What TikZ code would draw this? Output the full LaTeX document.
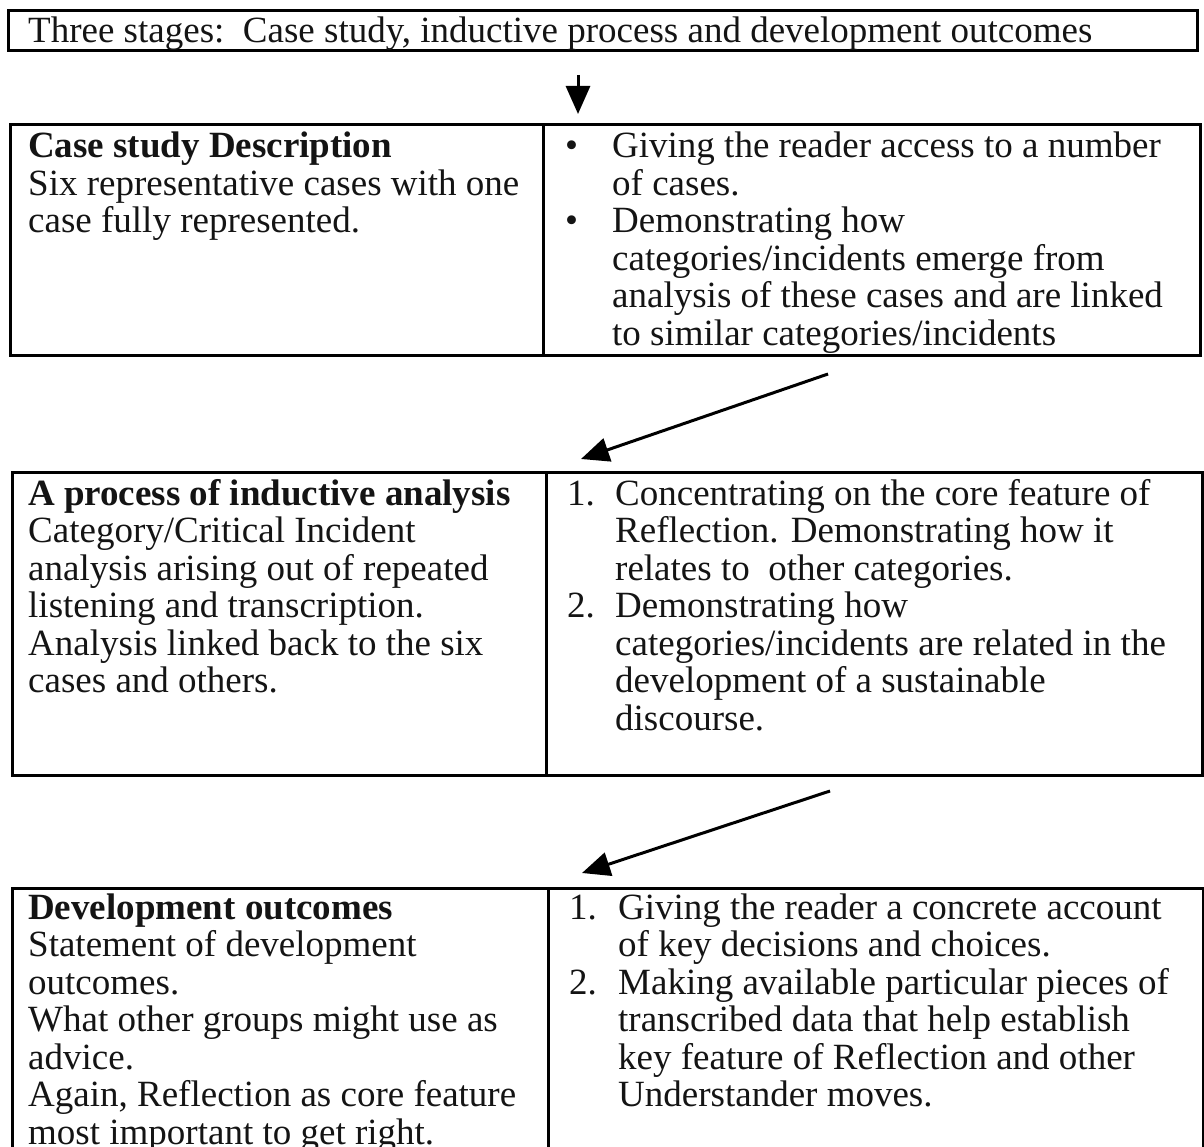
\documentclass[tikz,border=0pt]{standalone}
\usepackage{fontspec}
\setmainfont{Liberation Serif}
\usetikzlibrary{arrows.meta}

\begin{document}
\begin{tikzpicture}[x=1pt,y=-1pt,
  frame/.style={draw=black, line width=3pt},
  flow/.style={draw=black, line width=3pt, -{Triangle[length=28pt,width=24pt]}},
  txt/.style={anchor=base west, inner sep=0pt, font=\fontsize{37}{37.5}\selectfont, text=black!92},
]
\useasboundingbox (0,0) rectangle (1204,1147);
\clip (0,0) rectangle (1204,1147);

% ---- heading box ----
\draw[frame] (8,10.5) rectangle (1197,51);
\node[txt] (title) at (28,43) {Three stages:\ \ Case study, inductive process and development outcomes};

% ---- stage boxes with column rules ----
\draw[frame] (10,125) rectangle (1200,355);
\draw[frame] (543,125) -- (543,355);
\draw[frame] (12,472) rectangle (1202,775);
\draw[frame] (546,472) -- (546,775);
\draw[frame] (12,888) rectangle (1203,1170);
\draw[frame] (548,888) -- (548,1170);

% ---- stage 1 ----
\node[txt] (s1l) at (28,158) {\parbox[t]{510pt}{\raggedright
  \textbf{Case study Description}\\
  Six representative cases with one\\
  case fully represented.}};
\node[txt] (s1b1) at (565,158) {•};
\node[txt] (s1r1) at (612,158) {\parbox[t]{590pt}{\raggedright
  Giving the reader access to a number\\
  of cases.}};
\node[txt] (s1b2) at (565,233) {•};
\node[txt] (s1r2) at (612,233) {\parbox[t]{590pt}{\raggedright
  Demonstrating how\\
  categories/incidents emerge from\\
  analysis of these cases and are linked\\
  to similar categories/incidents}};

% ---- stage 2 ----
\node[txt] (s2l) at (28,505) {\parbox[t]{515pt}{\raggedright
  \textbf{A process of inductive analysis}\\
  Category/Critical Incident\\
  analysis arising out of repeated\\
  listening and transcription.\\
  Analysis linked back to the six\\
  cases and others.}};
\node[txt] (s2n1) at (567,505) {1.};
\node[txt] (s2r1) at (615,505) {\parbox[t]{590pt}{\raggedright
  Concentrating on the core feature of\\
  Reflection. Demonstrating how it\\
  relates to\ \ other categories.}};
\node[txt] (s2n2) at (567,617.5) {2.};
\node[txt] (s2r2) at (615,617.5) {\parbox[t]{590pt}{\raggedright
  Demonstrating how\\
  categories/incidents are related in the\\
  development of a sustainable\\
  discourse.}};

% ---- stage 3 ----
\node[txt] (s3l) at (28,919) {\parbox[t]{515pt}{\raggedright
  \textbf{Development outcomes}\\
  Statement of development\\
  outcomes.\\
  What other groups might use as\\
  advice.\\
  Again, Reflection as core feature\\
  most important to get right.}};
\node[txt] (s3n1) at (569,919) {1.};
\node[txt] (s3r1) at (618,919) {\parbox[t]{590pt}{\raggedright
  Giving the reader a concrete account\\
  of key decisions and choices.}};
\node[txt] (s3n2) at (569,994) {2.};
\node[txt] (s3r2) at (618,994) {\parbox[t]{590pt}{\raggedright
  Making available particular pieces of\\
  transcribed data that help establish\\
  key feature of Reflection and other\\
  Understander moves.}};

% ---- arrows between stages ----
\coordinate (a0s) at (578,75);
\coordinate (a0e) at (578,114);
\coordinate (a1s) at (828,374);
\coordinate (a1e) at (581,459);
\coordinate (a2s) at (830,791);
\coordinate (a2e) at (582,873);
\draw[flow] (a0s) -- (a0e);
\draw[flow] (a1s) -- (a1e);
\draw[flow] (a2s) -- (a2e);
\end{tikzpicture}
\end{document}
